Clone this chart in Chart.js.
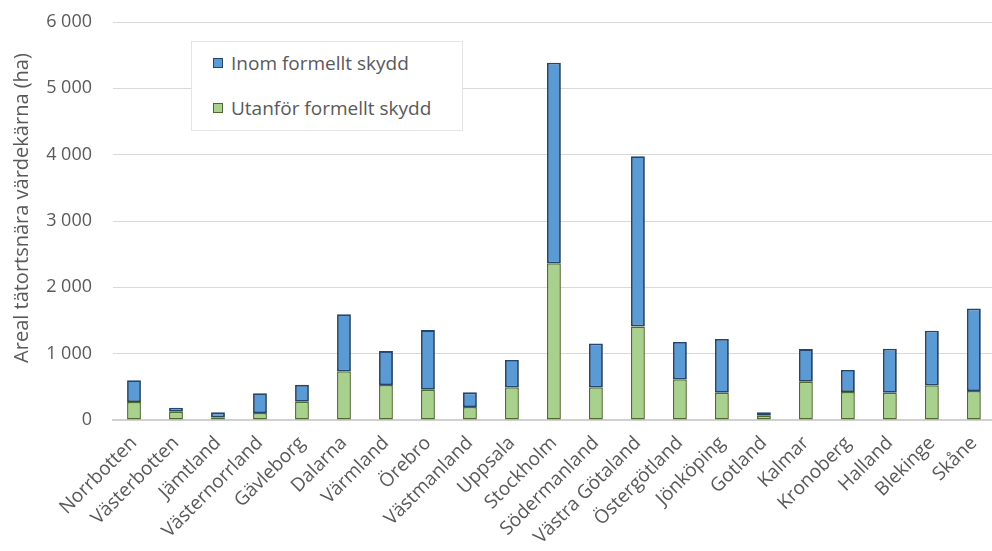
<!DOCTYPE html>
<html>
<head>
<meta charset="utf-8">
<script src="https://cdn.jsdelivr.net/npm/chart.js@4.4.1/dist/chart.umd.min.js"></script>
<style>
  html, body { margin: 0; padding: 0; background: #fff; overflow: hidden; }
  #wrap { position: relative; width: 1002px; height: 551px; }
  #legend {
    position: absolute; left: 191px; top: 41px; width: 270px; height: 88px;
    background: #fff; border: 1px solid #e4e4e4;
    font-family: "Open Sans", sans-serif; font-size: 19px; color: #595959;
  }
  .item { position: absolute; left: 21px; display: flex; align-items: center; }
  .box { width: 8px; height: 8px; margin-right: 8px; border: 1.5px solid; }
</style>
</head>
<body>
<div id="wrap">
  <canvas id="chart"></canvas>
  <div id="legend"></div>
</div>
<script>
const regions = ['Norrbotten', 'Västerbotten', 'Jämtland', 'Västernorrland', 'Gävleborg', 'Dalarna',
  'Värmland', 'Örebro', 'Västmanland', 'Uppsala', 'Stockholm', 'Södermanland', 'Västra Götaland',
  'Östergötland', 'Jönköping', 'Gotland', 'Kalmar', 'Kronoberg', 'Halland', 'Blekinge', 'Skåne'];

// hectares outside formal protection (bottom, green)
const utanfor = [270, 125, 40, 105, 275, 735, 527, 457, 196, 492, 2364, 492, 1411,
  613, 411, 65, 577, 422, 411, 523, 437];
// hectares inside formal protection (top, blue)
const inom = [330, 60, 75, 300, 255, 860, 512, 898, 221, 412, 3023, 663, 2565,
  562, 809, 51, 492, 331, 663, 822, 1245];

const yTicks = [0, 1000, 2000, 3000, 4000, 5000, 6000];

const fmt = (v) => String(v).replace(/\B(?=(\d{3})+(?!\d))/g, ' ');
const font = 'Open Sans';

const datasets = [
  {
    label: 'Utanför formellt skydd',
    data: utanfor,
    backgroundColor: '#a9d18e',
    borderColor: '#4f6a2b',
    borderWidth: 1.5,
  },
  {
    label: 'Inom formellt skydd',
    data: inom,
    backgroundColor: '#5b9bd5',
    borderColor: '#25466b',
    borderWidth: 1.8,
  },
].map(d => ({ ...d, barPercentage: 0.66, categoryPercentage: 0.5, borderSkipped: false }));

new Chart(document.getElementById('chart'), {
  type: 'bar',
  data: { labels: regions, datasets },
  options: {
    responsive: true,
    maintainAspectRatio: false,
    animation: false,
    layout: { padding: { top: 22, right: 0, left: 0, bottom: 0 } },
    scales: {
      x: {
        stacked: true,
        grid: { display: false, drawTicks: false },
        border: { display: true, color: '#d0d0d0', width: 2 },
        ticks: {
          color: '#595959',
          font: { family: font, size: 19 },
          minRotation: 45,
          maxRotation: 45,
          padding: 12,
        },
        afterFit: (s) => { s.height = 131; },
      },
      y: {
        stacked: true,
        min: 0,
        max: 6000,
        afterBuildTicks: (s) => { s.ticks = yTicks.map(v => ({ value: v })); },
        grid: { color: '#d9d9d9', drawTicks: false },
        border: { display: false },
        ticks: {
          color: '#595959',
          font: { family: font, size: 18 },
          padding: 21,
          callback: (v) => fmt(v),
        },
        title: {
          display: true,
          // leading spaces lift the rotated title a little, as in the original
          text: '\u00a0\u00a0\u00a0\u00a0\u00a0Areal tätortsnära värdekärna (ha)',
          color: '#595959',
          font: { family: font, size: 20 },
          padding: { top: 10, bottom: 0 },
        },
        afterFit: (s) => { s.width = 113; s.paddingTop = 0; },
      },
    },
    plugins: {
      legend: { display: false },
      tooltip: { enabled: false },
    },
  },
});

// legend inside the plot, blue series listed first as in the original
const legend = document.getElementById('legend');
[datasets[1], datasets[0]].forEach((d, i) => {
  const el = document.createElement('div');
  el.className = 'item';
  el.style.top = (8 + i * 45) + 'px';
  el.innerHTML = '<span class="box" style="background:' + d.backgroundColor + ';border-color:' + d.borderColor + '"></span>' + d.label;
  legend.appendChild(el);
});
</script>
</body>
</html>
